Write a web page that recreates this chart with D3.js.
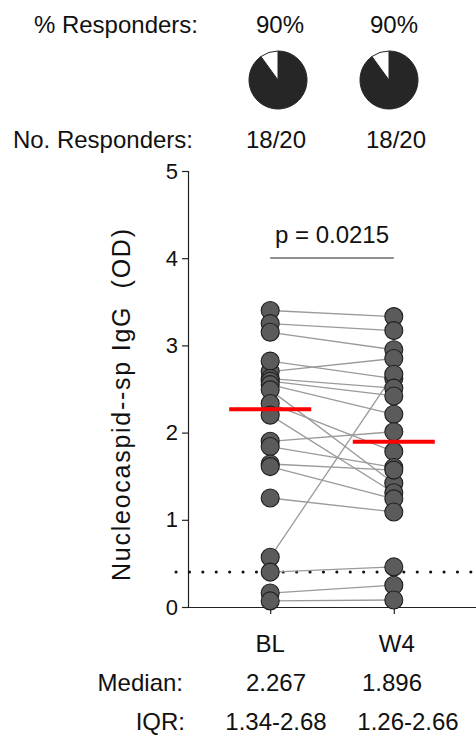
<!DOCTYPE html>
<html>
<head>
<meta charset="utf-8">
<script src="https://cdn.jsdelivr.net/npm/d3@7"></script>
<style>
  body { margin: 0; background: #fff; }
  svg { display: block; font-family: Arial, "Liberation Sans", sans-serif; }
</style>
</head>
<body>
<svg id="chart" width="476" height="742"></svg>
<script>
// Paired anti-nucleocapsid IgG readings, one entry per subject (same order in both arrays)
const timepoints = ["BL", "W4"];
const blValues = [3.40, 3.25, 3.15, 2.70, 2.82, 0.57, 2.62, 2.59, 2.55, 2.49,
                  2.334, 2.20, 1.90, 1.84, 1.64, 1.61, 1.25, 0.40, 0.16, 0.07];
const w4Values = [3.33, 3.17, 2.95, 2.85, 2.62, 2.67, 2.51, 2.42, 2.21, 1.42,
                  1.782, 1.31, 2.01, 1.60, 1.57, 1.24, 1.09, 0.46, 0.25, 0.08];
const iqrLabels = ["1.34-2.68", "1.26-2.66"];
const responderPct = [90, 90];
const responderCounts = ["18/20", "18/20"];
const yTicks = [0, 1, 2, 3, 4, 5];
const cutoff = 0.4;
const pLabel = "p = 0.0215";
const yTitle = "Nucleocaspid--sp IgG  (OD)";

const svg = d3.select("#chart");
const FONT = 24;

const x = d3.scalePoint().domain(timepoints).range([188, 476]).padding(0.665);
const y = d3.scaleLinear().domain([0, 5]).range([607, 171]);

// Y axis
const yAxis = svg.append("g").attr("transform", "translate(188,0)")
  .call(d3.axisLeft(y).tickValues(yTicks).tickFormat(d3.format("d")).tickSizeOuter(0).tickSize(6).tickPadding(4));
yAxis.select(".domain").attr("stroke", "#222").attr("stroke-width", 1.2);
yAxis.selectAll(".tick line").attr("stroke", "#222").attr("stroke-width", 1.2);
yAxis.selectAll(".tick text").attr("font-size", 22).attr("fill", "#111").attr("font-family", null);

// X axis
const xAxis = svg.append("g").attr("transform", `translate(0,${y(0)})`)
  .call(d3.axisBottom(x).tickSize(7).tickSizeOuter(0).tickFormat(""));
xAxis.select(".domain").attr("stroke", "#222").attr("stroke-width", 1.2);
xAxis.selectAll(".tick line").attr("stroke", "#222").attr("stroke-width", 1.2);

// Category labels under the axis
svg.append("g").selectAll("text").data(timepoints).join("text")
  .attr("x", (d, i) => x(d) + (i === 1 ? 3 : 0)).attr("y", 652)
  .attr("text-anchor", "middle").attr("font-size", FONT).attr("fill", "#111")
  .text(d => d);

// Y title, spread along the axis height
svg.append("text")
  .attr("transform", "translate(130,405) rotate(-90)")
  .attr("text-anchor", "middle").attr("font-size", 25).attr("fill", "#111")
  .attr("textLength", 352).attr("lengthAdjust", "spacing")
  .style("white-space", "pre")
  .text(yTitle);

// Positivity cutoff
svg.append("line")
  .attr("x1", 176).attr("x2", 476).attr("y1", y(cutoff)).attr("y2", y(cutoff))
  .attr("stroke", "#111").attr("stroke-width", 3).attr("stroke-linecap", "round")
  .attr("stroke-dasharray", "0.1,13.3");

// Subject lines
const pairs = blValues.map((b, i) => [b, w4Values[i]]);
svg.append("g").selectAll("line").data(pairs).join("line")
  .attr("x1", x("BL")).attr("x2", x("W4"))
  .attr("y1", d => y(d[0])).attr("y2", d => y(d[1]))
  .attr("stroke", "#9a9a9a").attr("stroke-width", 1.3);

// Significance bracket
svg.append("line").attr("x1", x("BL")).attr("x2", x("W4"))
  .attr("y1", 258).attr("y2", 258).attr("stroke", "#222").attr("stroke-width", 1.2);
svg.append("text").attr("x", (x("BL") + x("W4")) / 2).attr("y", 243)
  .attr("text-anchor", "middle").attr("font-size", FONT).attr("fill", "#111").text(pLabel);

// Points
const series = [blValues, w4Values];
series.forEach((vals, i) => {
  svg.append("g").selectAll("circle").data(vals).join("circle")
    .attr("cx", x(timepoints[i])).attr("cy", d => y(d)).attr("r", 9)
    .attr("fill", "#5b5b5b").attr("stroke", "#1e1e1e").attr("stroke-width", 1.1);
});

// Median bars
const medians = series.map(v => d3.median(v));
svg.append("g").selectAll("line").data(medians).join("line")
  .attr("x1", (d, i) => x(timepoints[i]) - 41).attr("x2", (d, i) => x(timepoints[i]) + 41)
  .attr("y1", d => y(d)).attr("y2", d => y(d))
  .attr("stroke", "#ff0000").attr("stroke-width", 4);

// Header: responder rates and pies
const header = svg.append("g").attr("font-size", FONT).attr("fill", "#111");
header.append("text").attr("x", 198).attr("y", 33).attr("text-anchor", "end").text("% Responders:");
header.append("text").attr("x", 193).attr("y", 148).attr("text-anchor", "end").text("No. Responders:");
const pctX = [280, 394];
const cntX = [276, 396];
const pieX = [278, 389];
header.selectAll(".pct").data(responderPct).join("text").attr("class", "pct")
  .attr("x", (d, i) => pctX[i]).attr("y", 33).attr("text-anchor", "middle").text(d => d + "%");
header.selectAll(".cnt").data(responderCounts).join("text").attr("class", "cnt")
  .attr("x", (d, i) => cntX[i]).attr("y", 148).attr("text-anchor", "middle").text(d => d);

const pie = d3.pie().sort(null).startAngle(0).endAngle(2 * Math.PI);
const arc = d3.arc().innerRadius(0).outerRadius(29);
responderPct.forEach((p, i) => {
  const g = svg.append("g").attr("transform", `translate(${pieX[i]},80)`);
  g.selectAll("path").data(pie([p, 100 - p])).join("path")
    .attr("d", arc)
    .attr("fill", (d, j) => j === 0 ? "#262626" : "#ffffff")
    .attr("stroke", "#262626").attr("stroke-width", 1);
});

// Footer: medians and IQRs
const footer = svg.append("g").attr("font-size", FONT).attr("fill", "#111");
footer.append("text").attr("x", 183).attr("y", 691).attr("text-anchor", "end").text("Median:");
footer.append("text").attr("x", 185).attr("y", 730).attr("text-anchor", "end").text("IQR:");
const medX = [276, 392];
const iqrX = [276, 408];
footer.selectAll(".med").data(medians).join("text").attr("class", "med")
  .attr("x", (d, i) => medX[i]).attr("y", 691).attr("text-anchor", "middle").text(d => d3.format(".3f")(d));
footer.selectAll(".iqr").data(iqrLabels).join("text").attr("class", "iqr")
  .attr("x", (d, i) => iqrX[i]).attr("y", 730).attr("text-anchor", "middle").text(d => d);
</script>
</body>
</html>
